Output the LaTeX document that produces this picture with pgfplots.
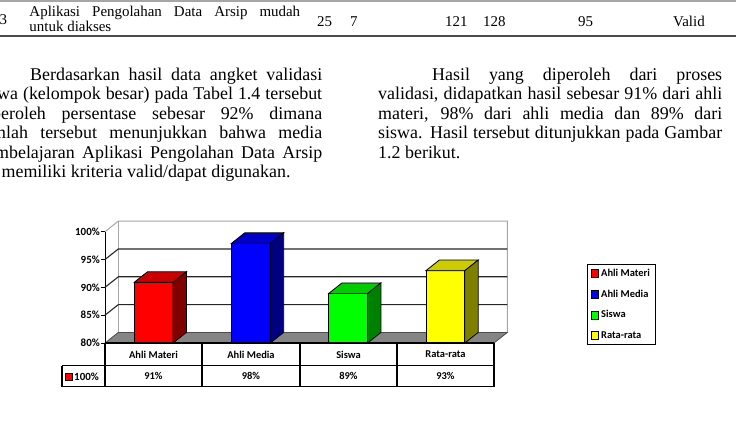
\documentclass[border=0pt]{standalone}
\usepackage{pgfplots}
\pgfplotsset{compat=1.18}
\usepackage{fontspec}
\setmainfont{Liberation Serif}
\newfontfamily\calfont{Carlito}
\newcommand{\chartfont}{\calfont\bfseries\fontsize{10.5}{12}\selectfont}
\newcommand{\tickfont}{\calfont\bfseries\fontsize{11}{12}\selectfont}
\newcommand{\bodyfont}{\fontsize{18}{20}\selectfont}
\newcommand{\tabfont}{\fontsize{15}{17}\selectfont}
\definecolor{fR}{HTML}{FF0000}\definecolor{tR}{HTML}{CC0000}\definecolor{sR}{HTML}{800000}
\definecolor{fB}{HTML}{0000FF}\definecolor{tB}{HTML}{0000CC}\definecolor{sB}{HTML}{000080}
\definecolor{fG}{HTML}{00FF00}\definecolor{tG}{HTML}{00CC00}\definecolor{sG}{HTML}{008000}
\definecolor{fY}{HTML}{FFFF00}\definecolor{tY}{HTML}{CCCC00}\definecolor{sY}{HTML}{808000}
\definecolor{floorgray}{HTML}{858585}
\definecolor{wallgray}{HTML}{A6A6A6}
\begin{document}
\begin{tikzpicture}[x=1bp,y=1bp]
\useasboundingbox (0,0) rectangle (736,422);
\clip (0,0) rectangle (736,422);
\fill[white] (0,0) rectangle (736,422);
% ---- top table row ----
\draw[black!35, line width=1.2bp] (0,421) -- (736,421);
\draw[black!70, line width=1.2bp] (0,386) -- (736,386);
\node[anchor=base west, inner sep=0] at (-0.5,397) {\tabfont 3};
\node[anchor=base west, inner sep=0] at (29.3,405) {\tabfont\makebox[270.7bp][s]{Aplikasi Pengolahan Data Arsip mudah}};
\node[anchor=base west, inner sep=0] at (29.3,390) {\tabfont untuk diakses};
\node[anchor=base west, inner sep=0] at (317,395) {\tabfont 25};
\node[anchor=base west, inner sep=0] at (350,395) {\tabfont 7};
\node[anchor=base west, inner sep=0] at (445,395) {\tabfont 121};
\node[anchor=base west, inner sep=0] at (483,395) {\tabfont 128};
\node[anchor=base west, inner sep=0] at (578,395) {\tabfont 95};
\node[anchor=base west, inner sep=0] at (673,395) {\tabfont Valid};
% ---- left column ----
\node[anchor=base west, inner sep=0] at (30,341.5) {\bodyfont\makebox[292bp][s]{Berdasarkan hasil data angket validasi}};
\node[anchor=base west, inner sep=0] at (-22,322.1) {\bodyfont\makebox[344bp][s]{siswa (kelompok besar) pada Tabel 1.4 tersebut}};
\node[anchor=base west, inner sep=0] at (-22,302.7) {\bodyfont\makebox[344bp][s]{diperoleh persentase sebesar 92\% dimana}};
\node[anchor=base west, inner sep=0] at (-22,283.3) {\bodyfont\makebox[344bp][s]{jumlah tersebut menunjukkan bahwa media}};
\node[anchor=base west, inner sep=0] at (-22,263.9) {\bodyfont\makebox[344bp][s]{pembelajaran Aplikasi Pengolahan Data Arsip}};
\node[anchor=base west, inner sep=0] at (-22,244.5) {\bodyfont ini memiliki kriteria valid/dapat digunakan.};
% ---- right column ----
\node[anchor=base west, inner sep=0] at (432,341.5) {\bodyfont\makebox[290bp][s]{Hasil yang diperoleh dari proses}};
\node[anchor=base west, inner sep=0] at (378,322.1) {\bodyfont\makebox[344bp][s]{validasi, didapatkan hasil sebesar 91\% dari ahli}};
\node[anchor=base west, inner sep=0] at (378,302.7) {\bodyfont\makebox[344bp][s]{materi, 98\% dari ahli media dan 89\% dari}};
\node[anchor=base west, inner sep=0] at (378,283.3) {\bodyfont\makebox[344bp][s]{siswa. Hasil tersebut ditunjukkan pada Gambar}};
\node[anchor=base west, inner sep=0] at (378,263.9) {\bodyfont 1.2 berikut.};
% ---- chart ----
\begin{axis}[at={(105bp,79bp)}, anchor=south west,
  x=97.25bp, y=5.565bp,
  xmin=-0.5, xmax=3.5, ymin=80, ymax=100, clip=false,
  axis x line=none, axis y line*=left,
  y axis line style={-, black, line width=1bp},
  ytick={80,85,90,95,100},
  yticklabels={80\%,85\%,90\%,95\%,100\%},
  yticklabel style={font=\tickfont, inner sep=1bp},
  tick align=outside, major tick length=4bp,
  tick style={black, line width=0.9bp},
  legend image code/.code={\draw[#1, line width=0.7bp] (0bp,-3.8bp) rectangle (7.5bp,3.8bp);},
  legend style={at={(1.239,0.71)}, anchor=north west, draw=black, line width=1bp,
    font=\chartfont, row sep=10bp, inner xsep=3.5bp, inner ysep=3.5bp,
    nodes={inner xsep=2bp, inner ysep=1bp}},
  legend cell align=left,
]
% legend
\addlegendimage{fill=fR, draw=black}\addlegendentry{Ahli Materi}
\addlegendimage{fill=fB, draw=black}\addlegendentry{Ahli Media}
\addlegendimage{fill=fG, draw=black}\addlegendentry{Siswa}
\addlegendimage{fill=fY, draw=black}\addlegendentry{Rata-rata}
% walls
\draw[wallgray, line width=1bp] (axis cs:-0.5,100) -- (axis cs:-0.363,101.9) -- (axis cs:3.637,101.9) -- (axis cs:3.637,81.9);
\draw[wallgray, line width=1bp] (axis cs:-0.363,81.9) -- (axis cs:-0.363,101.9);
% gridlines
\draw[black!85, line width=1.1bp] (axis cs:-0.5,85) -- (axis cs:-0.363,86.9) -- (axis cs:3.637,86.9);
\draw[black!85, line width=1.1bp] (axis cs:-0.5,90) -- (axis cs:-0.363,91.9) -- (axis cs:3.637,91.9);
\draw[black!85, line width=1.1bp] (axis cs:-0.5,95) -- (axis cs:-0.363,96.9) -- (axis cs:3.637,96.9);
% floor
\addplot[fill=floorgray, draw=black!70, line width=0.8bp, forget plot] coordinates {(-0.5,80) (3.5,80) (3.637,81.9) (-0.363,81.9)} -- cycle;
% bar 1: Ahli Materi 90.9
\addplot[fill=fR, draw=black, line width=0.8bp, forget plot] coordinates {(-0.2,80) (0.2,80) (0.2,90.9) (-0.2,90.9)} -- cycle;
\addplot[fill=tR, draw=black, line width=0.8bp, forget plot] coordinates {(-0.2,90.9) (0.2,90.9) (0.337,92.8) (-0.063,92.8)} -- cycle;
\addplot[fill=sR, draw=black, line width=0.8bp, forget plot] coordinates {(0.2,80) (0.337,81.9) (0.337,92.8) (0.2,90.9)} -- cycle;
% bar 2: Ahli Media 97.9
\addplot[fill=fB, draw=black, line width=0.8bp, forget plot] coordinates {(0.8,80) (1.2,80) (1.2,97.9) (0.8,97.9)} -- cycle;
\addplot[fill=tB, draw=black, line width=0.8bp, forget plot] coordinates {(0.8,97.9) (1.2,97.9) (1.337,99.8) (0.937,99.8)} -- cycle;
\addplot[fill=sB, draw=black, line width=0.8bp, forget plot] coordinates {(1.2,80) (1.337,81.9) (1.337,99.8) (1.2,97.9)} -- cycle;
% bar 3: Siswa 88.9
\addplot[fill=fG, draw=black, line width=0.8bp, forget plot] coordinates {(1.8,80) (2.2,80) (2.2,88.9) (1.8,88.9)} -- cycle;
\addplot[fill=tG, draw=black, line width=0.8bp, forget plot] coordinates {(1.8,88.9) (2.2,88.9) (2.337,90.8) (1.937,90.8)} -- cycle;
\addplot[fill=sG, draw=black, line width=0.8bp, forget plot] coordinates {(2.2,80) (2.337,81.9) (2.337,90.8) (2.2,88.9)} -- cycle;
% bar 4: Rata-rata 93.0
\addplot[fill=fY, draw=black, line width=0.8bp, forget plot] coordinates {(2.8,80) (3.2,80) (3.2,93.0) (2.8,93.0)} -- cycle;
\addplot[fill=tY, draw=black, line width=0.8bp, forget plot] coordinates {(2.8,93.0) (3.2,93.0) (3.337,94.9) (2.937,94.9)} -- cycle;
\addplot[fill=sY, draw=black, line width=0.8bp, forget plot] coordinates {(3.2,80) (3.337,81.9) (3.337,94.9) (3.2,93.0)} -- cycle;
\end{axis}
% ---- data table ----
\begin{scope}[line width=1.2bp]
\draw (105,79) -- (494,79);
\draw (62,56.3) -- (494,56.3);
\draw (62,35.3) -- (494,35.3);
\draw (62,56.3) -- (62,35.3);
\draw (105,79) -- (105,35.3);
\draw (202,79) -- (202,35.3);
\draw (300,79) -- (300,35.3);
\draw (397,79) -- (397,35.3);
\draw (494,79) -- (494,35.3);
\end{scope}
\node[font=\chartfont] at (153.5,67.5) {Ahli Materi};
\node[font=\chartfont] at (251,67.5) {Ahli Media};
\node[font=\chartfont] at (348.5,67.5) {Siswa};
\node[font=\chartfont] at (445.5,67.5) {Rata-rata};
\node[font=\chartfont] at (153.5,46) {91\%};
\node[font=\chartfont] at (251,46) {98\%};
\node[font=\chartfont] at (348.5,46) {89\%};
\node[font=\chartfont] at (445.5,46) {93\%};
\draw[fill=fR, draw=black, line width=0.7bp] (65,41.5) rectangle (72,48.5);
\node[font=\tickfont, anchor=west, inner sep=0] at (74,45.5) {100\%};
\end{tikzpicture}
\end{document}
